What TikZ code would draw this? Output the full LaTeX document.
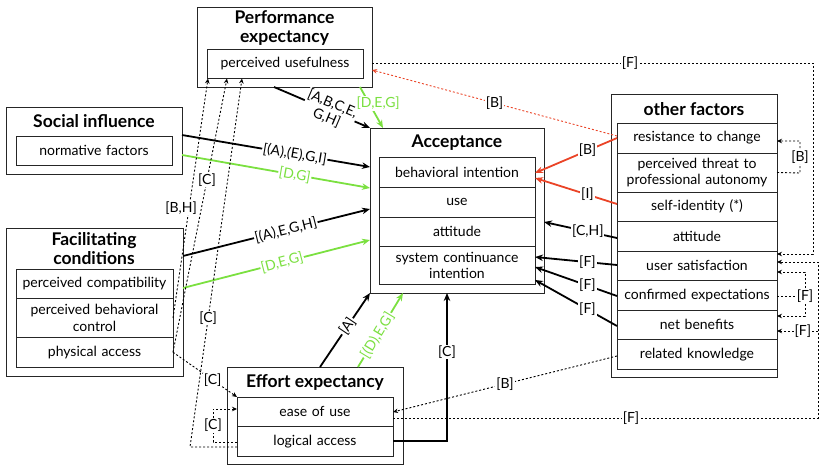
\documentclass[tikz,border=0pt]{standalone}
\usepackage{fontspec}
\setmainfont{Lato}
\usetikzlibrary{arrows.meta,positioning,calc}
\definecolor{lime}{HTML}{7BE040}
\definecolor{rust}{HTML}{EA4326}
\definecolor{edge}{HTML}{262626}

\begin{document}
\begin{tikzpicture}[x=1pt,y=-1pt,
   outer/.style={draw=edge,line width=0.8pt,fill=white,anchor=north west,
                 inner sep=0pt,outer sep=0pt},
   ttl/.style={font=\bfseries\fontsize{17.5}{19}\selectfont,align=center,inner sep=0pt},
   row/.style={draw=edge,line width=0.8pt,outer sep=0pt,inner xsep=0pt,inner ysep=1pt,
               text width=#1,minimum height=29.5pt,align=center,
               font=\fontsize{14}{16.5}\selectfont},
   lab/.style={fill=white,inner sep=0.8pt,font=\fontsize{14}{15}\selectfont},
   glab/.style={lab,text=lime},
   lnk/.style={-{Stealth[length=8pt,width=6.5pt]},line width=1.8pt},
   glnk/.style={lnk,draw=lime},
   rlnk/.style={lnk,draw=rust},
   dln/.style={-{Stealth[length=5pt,width=4.5pt]},line width=0.9pt,
               dash pattern=on 2pt off 2pt}]

  \useasboundingbox (0,0) rectangle (822,465);

  % performance expectancy
  \node[outer,minimum width=175pt,minimum height=80pt] (PE) at (197,7) {};
  \node[ttl] (PEt) at (284.5,28) {Performance\\expectancy};
  \node[row=156pt,anchor=north west] (pu) at (207,49) {perceived usefulness};

  % social influence
  \node[outer,minimum width=176pt,minimum height=67pt] (SI) at (6,107) {};
  \node[ttl] (SIt) at (94,121) {Social influence};
  \node[row=156pt,anchor=north west] (nf) at (16,136) {normative factors};

  % facilitating conditions
  \node[outer,minimum width=177pt,minimum height=148pt] (FC) at (6,228) {};
  \node[ttl] (FCt) at (94,249) {Facilitating\\conditions};
  \node[row=157pt,anchor=north west] (pc) at (16,269) {perceived compatibility};
  \node[row=157pt,minimum height=39pt,below=0pt of pc] (pbc) {perceived behavioral\\control};
  \node[row=157pt,below=0pt of pbc] (pa) {physical access};

  % acceptance
  \node[outer,minimum width=174pt,minimum height=165pt] (Acc) at (370,128) {};
  \node[ttl] (Acct) at (457,143) {Acceptance};
  \node[row=156pt,minimum height=30pt,anchor=north west] (bi) at (379,157) {behavioral intention};
  \node[row=156pt,minimum height=30pt,below=0pt of bi] (use) {use};
  \node[row=156pt,below=0pt of use] (att) {attitude};
  \node[row=156pt,minimum height=38pt,below=0pt of att] (sci) {system continuance\\intention};

  % other factors
  \node[outer,minimum width=166pt,minimum height=283pt] (OF) at (611,94) {};
  \node[ttl] (OFt) at (694,109) {other factors};
  \node[row=160pt,minimum height=30pt,anchor=north west] (rc) at (617,123) {resistance to change};
  \node[row=160pt,minimum height=39pt,below=0pt of rc] (thr) {perceived threat to\\professional autonomy};
  \node[row=160pt,below=0pt of thr] (sid) {self-identity (*)};
  \node[row=160pt,below=0pt of sid] (oatt) {attitude};
  \node[row=160pt,below=0pt of oatt] (us) {user satisfaction};
  \node[row=160pt,below=0pt of us] (ce) {confirmed expectations};
  \node[row=160pt,below=0pt of ce] (nb) {net benefits};
  \node[row=160pt,below=0pt of nb] (rk) {related knowledge};

  % effort expectancy
  \node[outer,minimum width=176pt,minimum height=97pt] (EE) at (227,367) {};
  \node[ttl] (EEt) at (315,382) {Effort expectancy};
  \node[row=156pt,anchor=north west] (eou) at (237,397) {ease of use};
  \node[row=156pt,below=0pt of eou] (la) {logical access};

  % main paths into acceptance
  \draw[lnk] (PE.south -| 274,0) -- (Acc.north west)
     node[lab,sloped,pos=0.58,align=center] {[A,B,C,E,\\G,H]};
  \draw[glnk] (PE.south -| 360,0) -- (Acc.north -| 383,0) node[glab,pos=0.4,xshift=9pt] {[D,E,G]};
  \draw[lnk] (SI.east |- 0,135) -- (Acc.west |- 0,167) node[lab,sloped,pos=0.6] {[(A),(E),G,I]};
  \draw[glnk] (SI.east |- 0,155) -- (Acc.west |- 0,188) node[glab,sloped,pos=0.6] {[D,G]};
  \draw[lnk] (FC.east |- 0,256) -- (Acc.west |- 0,209) node[lab,sloped,pos=0.55] {[(A),E,G,H]};
  \draw[glnk] (FC.east |- 0,288) -- (Acc.west |- 0,240) node[glab,sloped,pos=0.53] {[D,E,G]};
  \draw[lnk] (EE.north -| 320,0) -- (Acc.south west) node[lab,sloped,pos=0.55] {[A]};
  \draw[glnk] (EE.north -| 358,0) -- (Acc.south -| 403,0) node[glab,sloped,pos=0.43] {[(D),E,G]};
  \draw[lnk] (la.east) -| (Acc.south -| 447,0) node[lab,pos=0.8] {[C]};

  % other factors
  \draw[dln,draw=rust] (rc.west |- 0,136) -- (PE.east |- 0,70) node[lab,pos=0.5] {[B]};
  \draw[rlnk] (rc.west |- 0,138) -- (bi.east |- 0,173) node[lab,pos=0.36] {[B]};
  \draw[rlnk] (sid.west |- 0,204) -- (bi.east |- 0,178) node[lab,pos=0.36] {[I]};
  \draw[lnk] (oatt.west |- 0,238) -- (Acc.east |- 0,222) node[lab,pos=0.4] {[C,H]};
  \draw[lnk] (us.west |- 0,265) -- (sci.east |- 0,257) node[lab,pos=0.36] {[F]};
  \draw[lnk] (ce.west |- 0,296) -- (sci.east |- 0,267) node[lab,pos=0.36] {[F]};
  \draw[lnk] (nb.west |- 0,326) -- (sci.east |- 0,280) node[lab,pos=0.36] {[F]};
  \draw[dln] (rk.west |- 0,356) -- (eou.east |- 0,412) node[lab,pos=0.5] {[B]};

  % loops on the right
  \draw[dln] (thr.east) -- (800,173) -- node[lab] {[B]} (800,141) -- (rc.east |- 0,141);
  \draw[dln] (PE.east |- 0,63) -- node[lab,pos=0.585] {[F]} (813,63) |- (us.east |- 0,254);
  \draw[dln] (eou.east |- 0,418) -- node[lab,pos=0.56] {[F]} (818,418) |- (us.east |- 0,262);
  \draw[dln] (818,331) -- node[lab,pos=0.37] {[F]} (nb.east |- 0,331);
  \draw[dln] (805,296) |- (nb.east |- 0,316);
  \draw[dln] (805,296) |- (us.east |- 0,272);
  \draw[dash pattern=on 2pt off 2pt,line width=0.9pt] (ce.east |- 0,296) -- (805,296) node[lab] {[F]};

  % dotted paths on the left
  \draw[dln] (pbc.east) -- (pu.south -| 208,0) node[lab,pos=0.46,xshift=-8pt] {[B,H]};
  \draw[dln] (pa.east) -- (pu.south -| 227,0) node[lab,pos=0.63] {[C]};
  \draw[dln] (la.west |- 0,447) -- (190,447) -- (pu.south -| 242,0) node[lab,pos=0.35] {[C]};
  \draw[dln] (pa.east) -- (eou.north west) node[lab,pos=0.62] {[C]};
  \draw[dln] (la.west |- 0,442) -- (213,442) -- node[lab] {[C]} (213,409) -- (eou.west |- 0,409);
\end{tikzpicture}
\end{document}
